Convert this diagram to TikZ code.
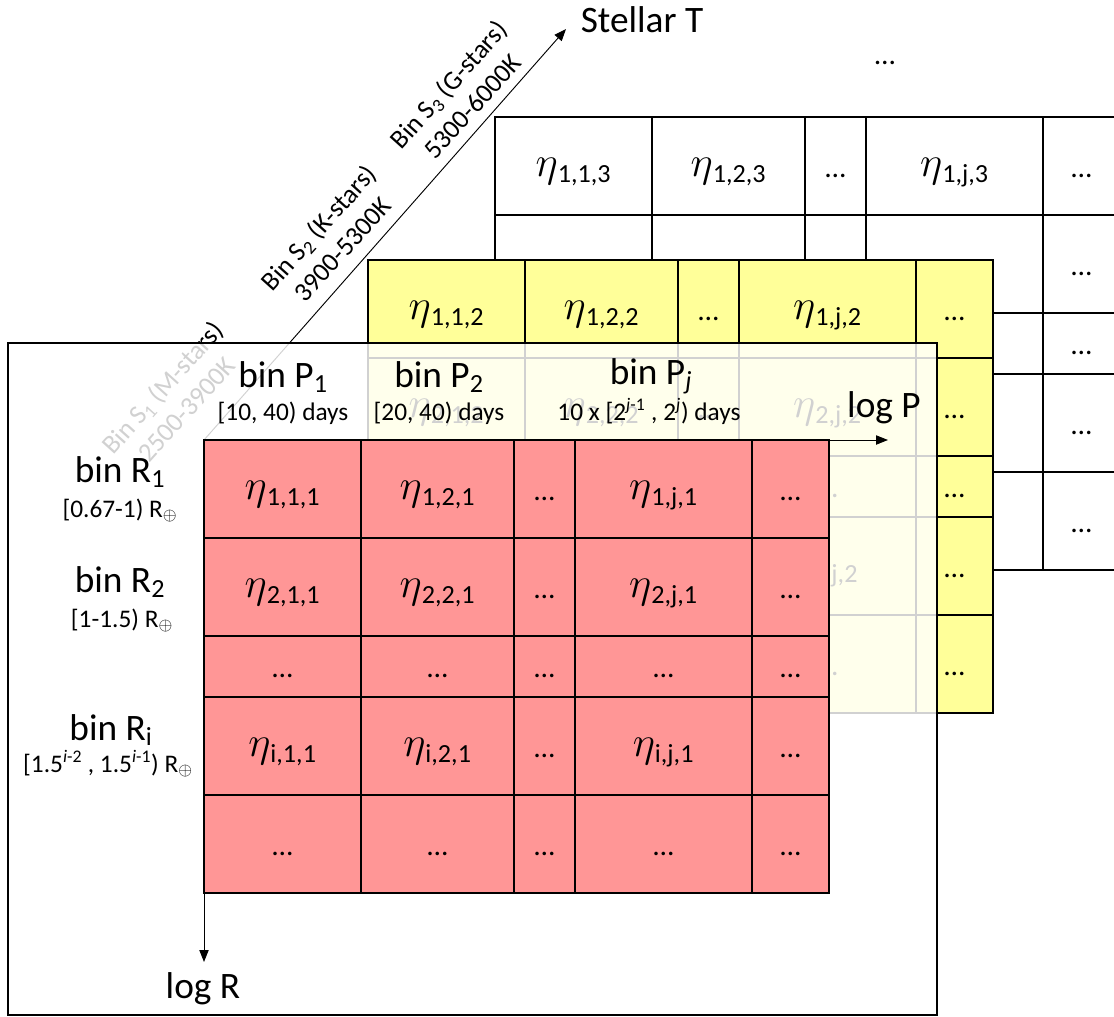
\RequirePackage{fix-cm}
\documentclass[tikz,border=0pt]{standalone}
\usepackage{fontspec}
\setmainfont{Carlito}
\usetikzlibrary{arrows.meta}

\definecolor{binred}{RGB}{255,150,150}
\definecolor{binyellow}{RGB}{255,255,153}

\tikzset{
  gridline/.style={line width=1.4pt,line cap=rect},
  etacell/.style={font=\fontsize{28}{34}\selectfont,anchor=base,yshift=-8pt},
  dotcell/.style={font=\fontsize{22}{26}\selectfont,anchor=base,yshift=-8.5pt},
  binlabel/.style={font=\fontsize{28}{34}\selectfont,anchor=base},
  rangelabel/.style={font=\fontsize{19}{23}\selectfont,anchor=base},
  starlabel/.style={font=\fontsize{20}{24}\selectfont,align=center,rotate=48},
  axis/.style={line width=0.7pt,-{Triangle[length=9pt,width=7pt]}},
  panel/.style={fill=white,fill opacity=0.82,draw=black,line width=1.5pt}
}

\newcommand{\etabin}[1]{{\fontsize{32}{38}\selectfont$\eta$}\textsubscript{#1}}
% one grid of bins: fill, x, y
\newcommand{\bingrid}[3]{%
  \fill[#1] (#2,#3) rectangle ++(625,453);
  \foreach \cx in {0,157,310,371,548,625}
    \draw[gridline] (#2+\cx,#3) -- ++(0,453);
  \foreach \cy in {0,98,196,257,355,453}
    \draw[gridline] (#2,#3+\cy) -- ++(625,0);
}
% the cells of one grid: x, y, stellar bin, name
\newcommand{\bincells}[4]{%
  \foreach \r/\ry in {1/49,2/147,i/306}{
    \foreach \c/\cx in {1/78.5,2/233.5,j/459.5}
      \node[etacell] (#4-\r-\c) at (#1+\cx,#2+\ry) {\etabin{\r,\c,#3}};
    \foreach \cx [count=\n] in {340.5,586.5}
      \node[dotcell] (#4-\r-dots\n) at (#1+\cx,#2+\ry) {\textellipsis};
  }
  \foreach \ry [count=\m] in {226.5,404}
    \foreach \cx [count=\n] in {78.5,233.5,340.5,459.5,586.5}
      \node[dotcell] (#4-dots\m-\n) at (#1+\cx,#2+\ry) {\textellipsis};
}

\begin{document}
\begin{tikzpicture}[x=0.75pt,y=-0.75pt]
  \useasboundingbox (0,0) rectangle (1114,1017);
  \clip (0,0) rectangle (1114,1017);

  % stellar temperature axis
  \coordinate (origin) at (204,440);
  \coordinate (ttip) at (566,29);
  \coordinate (ptip) at (888,440);
  \coordinate (rtip) at (204,962);
  \draw[axis] (origin) -- (ttip);
  \node[binlabel] (stellar) at (642,32) {Stellar T};
  \node[starlabel] (s1) at (174,398) {Bin S\textsubscript{1} (M-stars)\\2500-3900K};
  \node[starlabel] (s2) at (330,238) {Bin S\textsubscript{2} (K-stars)\\3900-5300K};
  \node[starlabel] (s3) at (460,95) {Bin S\textsubscript{3} (G-stars)\\5300-6000K};
  \node[dotcell] (more) at (885,53) {\textellipsis};

  % G-star grid
  \bingrid{white}{495}{117}
  \foreach \c/\cx in {1/78.5,2/233.5,j/459.5}
    \node[etacell] (g-1-\c) at (495+\cx,166) {\etabin{1,\c,3}};
  \node[dotcell] (g-1-dots) at (835.5,166) {\textellipsis};
  \foreach \ry [count=\m] in {49,147,226.5,306,404}
    \node[dotcell] (g-dots\m) at (1081.5,117+\ry) {\textellipsis};

  % K-star grid
  \bingrid{binyellow}{368}{260}
  \bincells{368}{260}{2}{k}

  % M-star panel in front
  \draw[panel] (8,343) rectangle (937,1015);
  \bingrid{binred}{204}{440}
  \bincells{204}{440}{1}{m}

  % period and radius bins
  \node[binlabel] (p1) at (283,387) {bin P\textsubscript{1}};
  \node[rangelabel] (p1range) at (283,420) {[10, 40) days};
  \node[binlabel] (p2) at (439,387) {bin P\textsubscript{2}};
  \node[rangelabel] (p2range) at (439,420) {[20, 40) days};
  \node[binlabel] (pj) at (651,384) {bin P\textsubscript{\textit{j}}};
  \node[rangelabel] (pjrange) at (649,420) {10 x [2\textsuperscript{\textit{j}-1} , 2\textsuperscript{\textit{j}}) days};
  \node[binlabel] (r1) at (120,482) {bin R\textsubscript{1}};
  \node[rangelabel] (r1range) at (120,517) {[0.67-1) R\textsubscript{$\oplus$}};
  \node[binlabel] (r2) at (120,592) {bin R\textsubscript{2}};
  \node[rangelabel] (r2range) at (122,627) {[1-1.5) R\textsubscript{$\oplus$}};
  \node[binlabel] (ri) at (111,740) {bin R\textsubscript{i}};
  \node[rangelabel] (rirange) at (108,772) {[1.5\textsuperscript{\textit{i}-2} , 1.5\textsuperscript{\textit{i}-1}) R\textsubscript{$\oplus$}};

  % period and radius axes
  \draw[axis] (origin) -- (ptip);
  \draw[axis] (origin) -- (rtip);
  \node[binlabel] (logp) at (884,417) {log P};
  \node[binlabel] (logr) at (203,998) {log R};
\end{tikzpicture}
\end{document}
